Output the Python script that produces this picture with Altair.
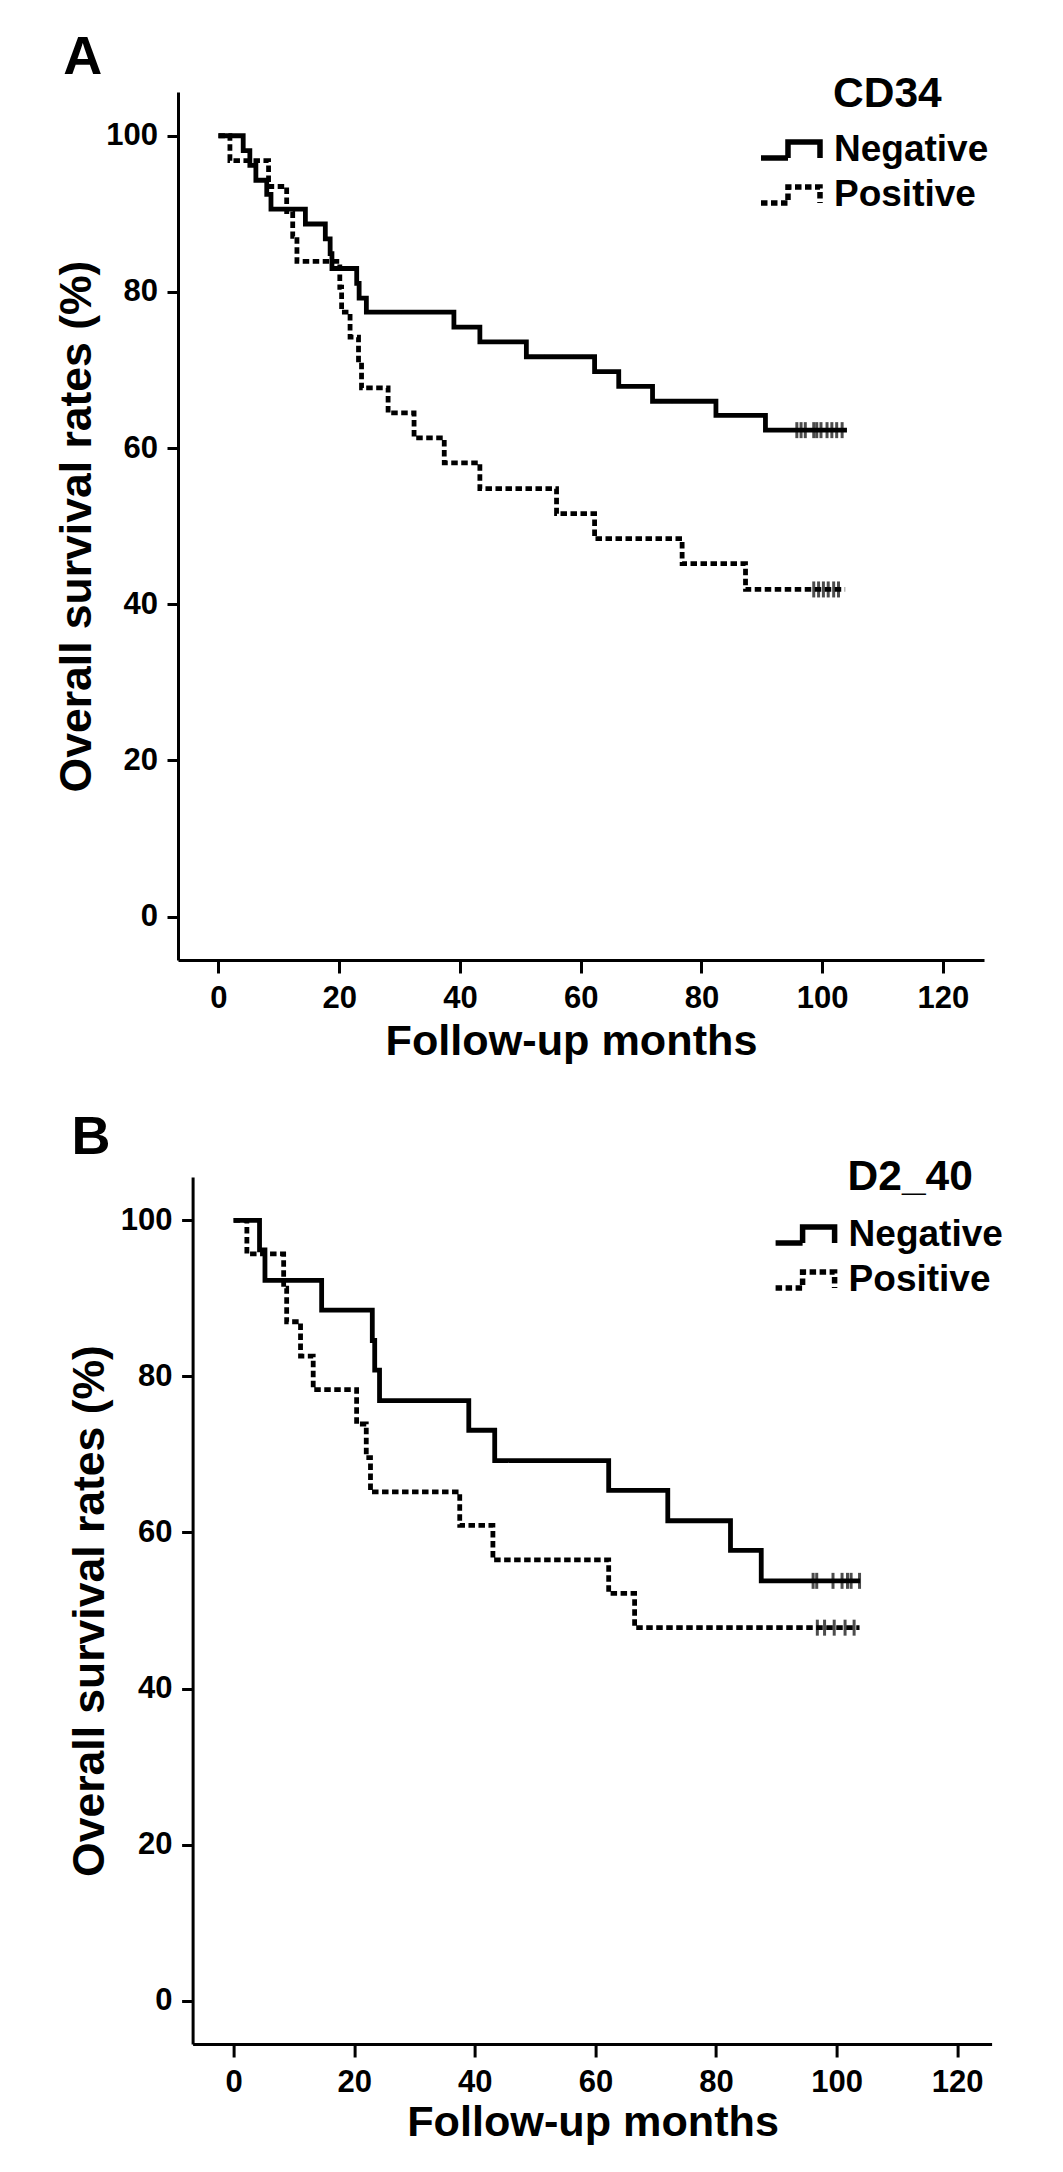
import altair as alt
import pandas as pd

FONT = "Liberation Sans"

# ---------------- Panel A : CD34 ----------------
a_neg_months = [0, 4.1, 5.2, 6.2, 8.0, 8.7, 14.4, 17.7, 18.5, 18.8, 22.9, 23.3, 24.5,
                39.0, 43.3, 51.0, 62.3, 66.3, 71.9, 82.4, 90.6, 104.1]
a_neg_surv = [100, 98.1, 96.2, 94.3, 92.5, 90.6, 88.7, 86.8, 84.9, 83.0, 81.1, 79.2, 77.4,
              75.5, 73.6, 71.7, 69.8, 67.9, 66.0, 64.2, 62.3, 62.3]
a_pos_months = [0, 1.9, 8.3, 11.3, 12.3, 13.0, 20.1, 20.4, 21.8, 23.2, 23.7, 28.1, 32.4,
                37.4, 43.3, 56.0, 62.3, 76.8, 87.3, 103.8]
a_pos_surv = [100, 96.8, 93.5, 90.3, 87.1, 83.9, 80.6, 77.4, 74.2, 71.0, 67.7, 64.5, 61.3,
              58.1, 54.8, 51.6, 48.4, 45.2, 41.9, 41.9]
a_neg_censored = [95.8, 96.5, 97.2, 98.6, 99.1, 99.8, 100.8, 101.6, 102.4, 103.3]
a_neg_censored_surv = 62.3
a_pos_censored = [98.6, 99.4, 100.2, 101.0, 101.9, 102.7]
a_pos_censored_surv = 41.9

# ---------------- Panel B : D2_40 ----------------
b_neg_months = [0, 4.3, 5.2, 14.6, 23.0, 23.4, 24.2, 39.0, 43.3, 62.2, 72.0, 82.4, 87.5, 103.9]
b_neg_surv = [100, 96.2, 92.3, 88.5, 84.6, 80.8, 76.9, 73.1, 69.2, 65.4, 61.5, 57.7, 53.8, 53.8]
b_pos_months = [0, 2.2, 8.3, 8.8, 11.1, 13.2, 20.4, 22.0, 22.7, 37.5, 43.0, 62.2, 66.5, 103.8]
b_pos_surv = [100, 95.7, 91.3, 87.0, 82.6, 78.3, 73.9, 69.6, 65.2, 60.9, 56.5, 52.2, 47.8, 47.8]
b_neg_censored = [96.1, 96.7, 99.4, 100.9, 101.8, 102.4, 103.8]
b_neg_censored_surv = 53.8
b_pos_censored = [96.8, 98.0, 99.6, 101.4, 102.9]
b_pos_censored_surv = 47.8

groups = ["Negative", "Positive"]
x_ticks = [0, 20, 40, 60, 80, 100, 120]
y_ticks = [0, 20, 40, 60, 80, 100]

LEGEND_PATH = "M-1.667,0.444H-0.167V-0.444H1.611V0.444"


def km_panel(neg_t, neg_s, pos_t, pos_s, neg_c, neg_cs, pos_c, pos_cs,
             xdom, ydom, w, h, legend_title, lt_y, label, lab_x, lab_y,
             xtitle_x, xtitle_y, ytitle_x):
    curve = pd.DataFrame({
        "group": [groups[0]] * len(neg_t) + [groups[1]] * len(pos_t),
        "month": neg_t + pos_t,
        "surv": neg_s + pos_s,
    })
    cens = pd.DataFrame({
        "group": [groups[0]] * len(neg_c) + [groups[1]] * len(pos_c),
        "month": neg_c + pos_c,
        "surv": [neg_cs] * len(neg_c) + [pos_cs] * len(pos_c),
    })
    x = alt.X("month:Q",
              scale=alt.Scale(domain=xdom, nice=False, zero=False),
              axis=alt.Axis(title="Follow-up months", values=x_ticks,
                            titleX=xtitle_x, titleY=xtitle_y))
    y = alt.Y("surv:Q",
              scale=alt.Scale(domain=ydom, nice=False, zero=False),
              axis=alt.Axis(title="Overall survival rates (%)", values=y_ticks,
                            titleX=ytitle_x))
    lines = alt.Chart(curve).mark_line(
        interpolate="step-after", strokeWidth=4.8, color="black",
        strokeCap="butt", strokeJoin="miter"
    ).encode(
        x=x, y=y,
        strokeDash=alt.StrokeDash(
            "group:N",
            scale=alt.Scale(domain=groups, range=[[1, 0], [6.5, 3.5]]),
            legend=alt.Legend(
                orient="none", legendX=592, legendY=37, title=None,
                symbolType=LEGEND_PATH, symbolSize=1296, symbolStrokeWidth=5.5,
                symbolStrokeColor="black", symbolFillColor="transparent",
                labelFont=FONT, labelFontSize=37, labelFontWeight="bold",
                labelColor="black", labelOffset=22, rowPadding=5, padding=0,
                labelLimit=400, symbolOffset=0,
            ),
        ),
    )
    ticks = alt.Chart(cens).mark_tick(
        orient="vertical", size=16, thickness=3, color="black"
    ).encode(x=x, y=y)
    ltitle = alt.Chart(pd.DataFrame({"t": [legend_title]})).mark_text(
        font=FONT, fontSize=42.5, fontWeight="bold", color="black",
        align="left", baseline="alphabetic"
    ).encode(text="t:N", x=alt.value(655), y=alt.value(lt_y))
    plabel = alt.Chart(pd.DataFrame({"t": [label]})).mark_text(
        font=FONT, fontSize=54, fontWeight="bold", color="black",
        align="left", baseline="alphabetic"
    ).encode(text="t:N", x=alt.value(lab_x), y=alt.value(lab_y))
    return alt.layer(lines, ticks, ltitle, plabel).properties(width=w, height=h)


panel_a = km_panel(a_neg_months, a_neg_surv, a_pos_months, a_pos_surv,
                   a_neg_censored, a_neg_censored_surv, a_pos_censored, a_pos_censored_surv,
                   [-6.7, 126.8], [-5.55, 105.6], 806, 868, "CD34", 14.7,
                   "A", -114.7, -18.3, 393, 60, -79)
panel_b = km_panel(b_neg_months, b_neg_surv, b_pos_months, b_pos_surv,
                   b_neg_censored, b_neg_censored_surv, b_pos_censored, b_pos_censored_surv,
                   [-6.8, 125.7], [-5.55, 105.55], 799, 867, "D2_40", 12.5,
                   "B", -121, -22.7, 400, 57.6, -80.6)

spacer = alt.Chart(pd.DataFrame({"s": [0]})).mark_point(opacity=0).encode(
    x=alt.value(0), y=alt.value(0)
).properties(width=1, height=1)

lower = alt.hconcat(spacer, panel_b, spacing=13.6, bounds="flush").resolve_scale(
    strokeDash="independent").resolve_legend(strokeDash="independent")

chart = alt.vconcat(
    panel_a, lower, spacing=217, bounds="flush",
).resolve_scale(
    strokeDash="independent"
).resolve_legend(
    strokeDash="independent"
).properties(
    padding={"left": 46, "top": 22, "right": 5, "bottom": 5},
    background="white",
).configure_view(stroke=None).configure_axis(
    domainColor="black", domainWidth=3, tickColor="black", tickWidth=3,
    labelFont=FONT, labelFontSize=31, labelFontWeight="bold", labelColor="black",
    titleFont=FONT, titleFontSize=43, titleFontWeight="bold", titleColor="black",
    grid=False, labelFlush=False,
).configure_axisX(
    tickSize=13, labelPadding=10.4, titleFontSize=43.2
).configure_axisY(
    tickSize=11, labelPadding=9.5, titleFontSize=44.5
)

chart.save("out.html", embed_options={"renderer": "svg", "actions": False})
